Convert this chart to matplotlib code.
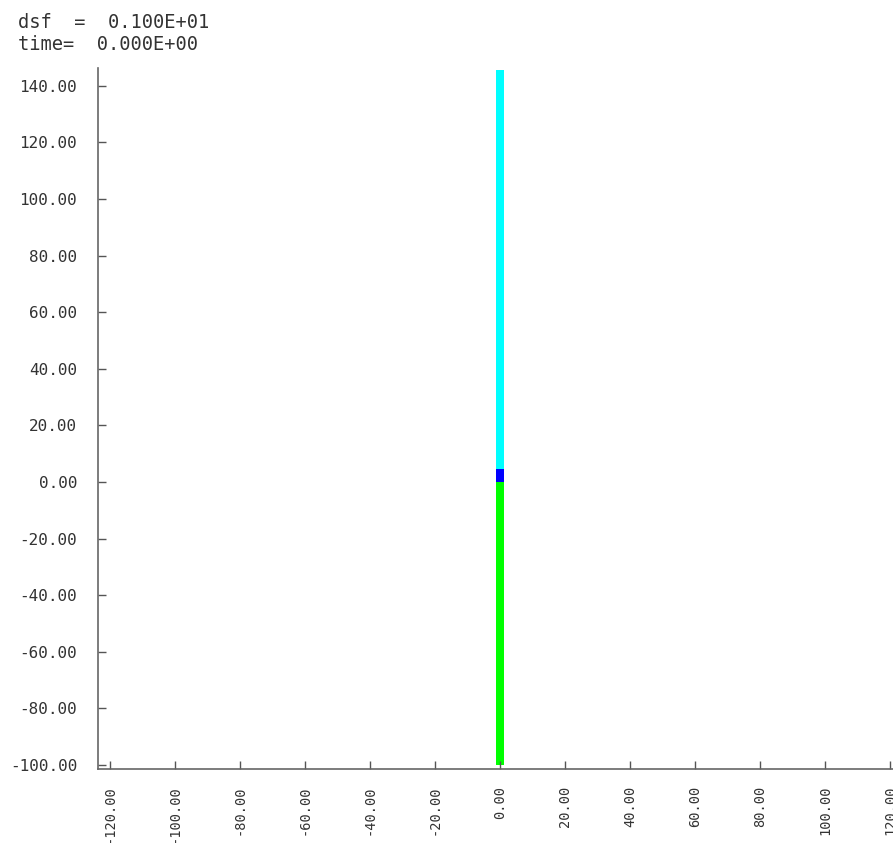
import matplotlib
matplotlib.use("Agg")
import matplotlib.pyplot as plt
import numpy as np

# Data
seg_bottoms = [-100.0, 0.0, 4.5]
seg_tops = [0.0, 4.5, 145.5]
seg_colors = ["#00ff00", "#0000ff", "#00ffff"]
bar_x = 0.0
bar_width = 2.3
xticks = [-120, -100, -80, -60, -40, -20, 0, 20, 40, 60, 80, 100, 120]
yticks = [-100, -80, -60, -40, -20, 0, 20, 40, 60, 80, 100, 120, 140]
title_lines = ["dsf  =  0.100E+01", "time=  0.000E+00"]

fig = plt.figure(figsize=(8.93, 8.43), dpi=100)
ax = fig.add_axes([98/893, 74/843, 1 - 98/893, (769-68)/843])

for b, t, c in zip(seg_bottoms, seg_tops, seg_colors):
    ax.bar(bar_x, t - b, bottom=b, width=bar_width, color=c, edgecolor="none")

ax.set_xlim(-123.6, 120.8)
ax.set_ylim(-101.4, 146.3)

ax.set_xticks(xticks)
ax.set_xticklabels([f"{v:.2f}" for v in xticks], rotation=90, va="top", ha="center",
                   family="DejaVu Sans Mono", fontsize=9.8, color="#333333")
ax.set_yticks(yticks)
ax.set_yticklabels([f"{v:.2f}" for v in yticks],
                   family="DejaVu Sans Mono", fontsize=11.5, color="#333333")

ax.tick_params(axis="x", direction="in", length=6, width=1, color="#555555", pad=12)
ax.tick_params(axis="y", direction="in", length=6, width=1, color="#555555", pad=15)

for s in ["top", "right"]:
    ax.spines[s].set_visible(False)
for s in ["left", "bottom"]:
    ax.spines[s].set_color("#666666")
    ax.spines[s].set_linewidth(1.2)

fig.text(18/893, 1 - 28/843, title_lines[0], family="DejaVu Sans Mono", fontsize=13.5,
         color="#333333", va="baseline", ha="left")
fig.text(18/893, 1 - 50/843, title_lines[1], family="DejaVu Sans Mono", fontsize=13.5,
         color="#333333", va="baseline", ha="left")

fig.savefig("out.png", dpi=100)
